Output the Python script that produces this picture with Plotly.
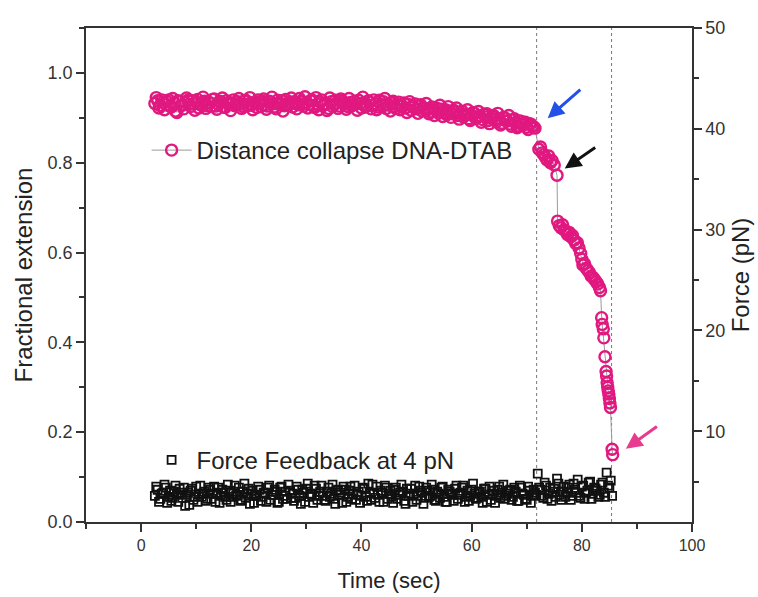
import plotly.graph_objects as go

# ---------------- data ----------------
TIME = [
    2.5, 3.0, 3.5, 4.0, 4.5, 5.0, 5.5, 6.0, 6.5, 7.0,
    7.5, 8.0, 8.5, 9.0, 9.5, 10.0, 10.5, 11.0, 11.5, 12.0,
    12.5, 13.0, 13.5, 14.0, 14.5, 15.0, 15.5, 16.0, 16.5, 17.0,
    17.5, 18.0, 18.5, 19.0, 19.5, 20.0, 20.5, 21.0, 21.5, 22.0,
    22.5, 23.0, 23.5, 24.0, 24.5, 25.0, 25.5, 26.0, 26.5, 27.0,
    27.5, 28.0, 28.5, 29.0, 29.5, 30.0, 30.5, 31.0, 31.5, 32.0,
    32.5, 33.0, 33.5, 34.0, 34.5, 35.0, 35.5, 36.0, 36.5, 37.0,
    37.5, 38.0, 38.5, 39.0, 39.5, 40.0, 40.5, 41.0, 41.5, 42.0,
    42.5, 43.0, 43.5, 44.0, 44.5, 45.0, 45.5, 46.0, 46.5, 47.0,
    47.5, 48.0, 48.5, 49.0, 49.5, 50.0, 50.5, 51.0, 51.5, 52.0,
    52.5, 53.0, 53.5, 54.0, 54.5, 55.0, 55.5, 56.0, 56.5, 57.0,
    57.5, 58.0, 58.5, 59.0, 59.5, 60.0, 60.5, 61.0, 61.5, 62.0,
    62.5, 63.0, 63.5, 64.0, 64.5, 65.0, 65.5, 66.0, 66.5, 67.0,
    67.5, 68.0, 68.5, 69.0, 69.5, 70.0, 70.5, 71.0, 71.5, 72.0,
    72.5, 73.0, 73.5, 74.0, 74.5, 75.0, 75.5, 76.0, 76.5, 77.0,
    77.5, 78.0, 78.5, 79.0, 79.5, 80.0, 80.5, 81.0, 81.5, 82.0,
    82.5, 83.0, 83.5, 84.0, 84.5, 85.0, 85.5,
]

# intermediate sampling instants (between the ones above)
TIME_MID = [
    2.75, 3.25, 3.75, 4.25, 4.75, 5.25, 5.75, 6.25, 6.75, 7.25,
    7.75, 8.25, 8.75, 9.25, 9.75, 10.25, 10.75, 11.25, 11.75, 12.25,
    12.75, 13.25, 13.75, 14.25, 14.75, 15.25, 15.75, 16.25, 16.75, 17.25,
    17.75, 18.25, 18.75, 19.25, 19.75, 20.25, 20.75, 21.25, 21.75, 22.25,
    22.75, 23.25, 23.75, 24.25, 24.75, 25.25, 25.75, 26.25, 26.75, 27.25,
    27.75, 28.25, 28.75, 29.25, 29.75, 30.25, 30.75, 31.25, 31.75, 32.25,
    32.75, 33.25, 33.75, 34.25, 34.75, 35.25, 35.75, 36.25, 36.75, 37.25,
    37.75, 38.25, 38.75, 39.25, 39.75, 40.25, 40.75, 41.25, 41.75, 42.25,
    42.75, 43.25, 43.75, 44.25, 44.75, 45.25, 45.75, 46.25, 46.75, 47.25,
    47.75, 48.25, 48.75, 49.25, 49.75, 50.25, 50.75, 51.25, 51.75, 52.25,
    52.75, 53.25, 53.75, 54.25, 54.75, 55.25, 55.75, 56.25, 56.75, 57.25,
    57.75, 58.25, 58.75, 59.25, 59.75, 60.25, 60.75, 61.25, 61.75, 62.25,
    62.75, 63.25, 63.75, 64.25, 64.75, 65.25, 65.75, 66.25, 66.75, 67.25,
    67.75, 68.25, 68.75, 69.25, 69.75, 70.25, 70.75, 71.25, 71.75, 72.25,
    72.75, 73.25, 73.75, 74.25, 74.75, 75.25, 75.75, 76.25, 76.75, 77.25,
    77.75, 78.25, 78.75, 79.25, 79.75, 80.25, 80.75, 81.25, 81.75, 82.25,
    82.75, 83.25, 83.75, 84.25, 84.75, 85.25,
]

# fractional extension before the collapse (t = 2.5 ... 71.5 s)
PLATEAU_EXT = [
    0.932, 0.938, 0.927, 0.935, 0.929, 0.940, 0.924, 0.933, 0.912, 0.936,
    0.928, 0.934, 0.939, 0.925, 0.931, 0.936, 0.922, 0.930, 0.937, 0.927,
    0.933, 0.941, 0.926, 0.930, 0.935, 0.924, 0.938, 0.929, 0.933, 0.927,
    0.936, 0.930, 0.925, 0.939, 0.931, 0.928, 0.934, 0.923, 0.932, 0.937,
    0.929, 0.926, 0.935, 0.931, 0.920, 0.933, 0.938, 0.927, 0.930, 0.935,
    0.924, 0.932, 0.929, 0.937, 0.926, 0.934, 0.930, 0.940, 0.923, 0.931,
    0.935, 0.927, 0.932, 0.921, 0.936, 0.929, 0.933, 0.926, 0.938, 0.930,
    0.925, 0.934, 0.929, 0.931, 0.939, 0.922, 0.930, 0.927, 0.935, 0.928,
    0.932, 0.924, 0.930, 0.936, 0.921, 0.928, 0.933, 0.925, 0.929, 0.918,
    0.926, 0.922, 0.930, 0.917, 0.924, 0.920, 0.927, 0.915, 0.921, 0.918,
    0.913, 0.922, 0.916, 0.910, 0.919, 0.912, 0.907, 0.915, 0.909, 0.913,
    0.905, 0.911, 0.902, 0.908, 0.898, 0.906, 0.910, 0.900, 0.904, 0.896,
    0.902, 0.894, 0.899, 0.905, 0.891, 0.897, 0.888, 0.900, 0.893, 0.886,
    0.895, 0.889, 0.882, 0.892, 0.885, 0.879, 0.887, 0.881, 0.877,
]

# fractional extension at the intermediate instants (t = 2.75 ... 71.25 s)
PLATEAU_EXT_MID = [
    0.945, 0.922, 0.940, 0.918, 0.936, 0.926, 0.943, 0.915, 0.938, 0.928,
    0.920, 0.944, 0.930, 0.938, 0.917, 0.941, 0.929, 0.946, 0.921, 0.935,
    0.926, 0.942, 0.919, 0.937, 0.944, 0.923, 0.933, 0.916, 0.940, 0.931,
    0.943, 0.921, 0.938, 0.927, 0.945, 0.918, 0.936, 0.940, 0.925, 0.942,
    0.919, 0.937, 0.946, 0.924, 0.939, 0.930, 0.915, 0.941, 0.928, 0.944,
    0.936, 0.920, 0.943, 0.931, 0.947, 0.922, 0.938, 0.926, 0.945, 0.918,
    0.940, 0.929, 0.916, 0.944, 0.925, 0.939, 0.921, 0.942, 0.934, 0.919,
    0.943, 0.927, 0.937, 0.917, 0.932, 0.946, 0.924, 0.938, 0.920, 0.940,
    0.918, 0.939, 0.926, 0.943, 0.930, 0.915, 0.937, 0.921, 0.935, 0.926,
    0.933, 0.912, 0.936, 0.924, 0.931, 0.910, 0.929, 0.920, 0.932, 0.909,
    0.924, 0.905, 0.921, 0.928, 0.903, 0.918, 0.925, 0.901, 0.917, 0.922,
    0.897, 0.915, 0.906, 0.918, 0.894, 0.912, 0.899, 0.914, 0.890, 0.908,
    0.909, 0.887, 0.903, 0.896, 0.910, 0.884, 0.901, 0.893, 0.905, 0.881,
    0.898, 0.878, 0.893, 0.884, 0.890, 0.874, 0.886, 0.880,
]

# collapse phase
COLLAPSE_TIME = [
    72.2, 72.5, 72.8, 73.1, 73.4, 73.7, 74.0, 74.3, 74.6, 75.0, 75.5,
    75.6, 75.9, 76.2, 76.5, 76.8, 77.1, 77.4, 77.7, 78.0, 78.3, 78.6,
    78.9, 79.2, 79.5, 79.8, 80.0, 80.2, 80.5, 80.8, 81.1, 81.4, 81.7,
    82.0, 82.3, 82.6, 82.9, 83.2, 83.4,
    83.6, 83.7, 83.9, 84.0, 84.2, 84.4, 84.5, 84.6, 84.7, 84.8, 84.9,
    85.0, 85.1, 85.2, 85.5, 85.6,
]
COLLAPSE_EXT = [
    0.830, 0.835, 0.822, 0.818, 0.812, 0.806, 0.815, 0.800, 0.805, 0.795, 0.772,
    0.670, 0.660, 0.655, 0.662, 0.650, 0.648, 0.640, 0.645, 0.635, 0.638, 0.628,
    0.620, 0.622, 0.610, 0.598, 0.585, 0.572, 0.575, 0.565, 0.560, 0.555, 0.548,
    0.545, 0.540, 0.535, 0.530, 0.522, 0.515,
    0.455, 0.440, 0.430, 0.410, 0.368, 0.335, 0.325, 0.310, 0.300, 0.292, 0.285,
    0.275, 0.265, 0.255, 0.162, 0.150,
]

# force feedback (pN), t = 2.5 ... 85.5 s
FORCE = [
    3.6, 4.2, 3.3, 3.9, 4.4, 3.5, 3.1, 4.0, 3.7, 4.3,
    3.4, 2.6, 3.9, 4.1, 3.2, 4.5, 3.7, 3.5, 4.0, 3.3,
    4.2, 3.8, 3.0, 4.4, 3.6, 3.9, 3.2, 4.1, 3.5, 4.6,
    3.7, 3.1, 4.0, 3.4, 4.3, 3.8, 2.9, 3.6, 4.2, 3.5,
    3.9, 4.4, 3.2, 3.7, 4.0, 3.0, 4.5, 3.6, 3.3, 4.1,
    3.8, 3.4, 4.2, 2.8, 3.9, 4.3, 3.5, 3.7, 4.6, 3.2,
    4.0, 3.6, 3.1, 4.4, 3.8, 3.3, 4.1, 3.7, 2.9, 4.2,
    3.5, 4.5, 3.8, 3.2, 4.0, 3.6, 4.3, 3.1, 3.9, 4.7,
    3.4, 3.7, 4.1, 3.0, 4.4, 3.8, 3.5, 4.2, 3.3, 3.9,
    4.0, 2.8, 3.6, 4.3, 3.7, 3.2, 4.5, 3.9, 3.4, 4.1,
    3.6, 4.2, 3.1, 3.8, 4.4, 3.5, 3.0, 4.0, 3.7, 4.3,
    3.3, 3.9, 4.6, 3.5, 3.1, 4.2, 3.8, 3.4, 4.0, 2.9,
    4.3, 3.7, 3.2, 4.1, 3.6, 4.5, 3.9, 3.3, 3.8, 4.2,
    3.5, 4.0, 3.1, 4.4, 3.7, 3.2, 4.1, 3.6, 3.9, 5.8,
    4.2, 3.4, 4.6, 3.8, 3.1, 4.3, 5.3, 3.7, 4.0, 3.5,
    4.4, 3.2, 4.8, 3.9, 3.6, 4.5, 3.3, 4.1, 5.0, 3.8,
    4.3, 3.5, 4.7, 3.9, 5.9, 4.4, 3.6,
]

# force feedback (pN) at the intermediate instants (t = 2.75 ... 85.25 s)
FORCE_MID = [
    4.5, 3.0, 3.8, 4.7, 2.9, 4.1, 3.4, 4.6, 3.0, 3.9,
    4.4, 3.7, 2.7, 4.3, 3.5, 3.0, 4.6, 3.8, 3.1, 4.4,
    3.3, 4.5, 3.9, 2.9, 4.2, 3.5, 4.7, 3.0, 4.0, 3.6,
    4.4, 3.2, 4.8, 3.8, 2.8, 4.1, 3.6, 4.5, 3.1, 3.9,
    3.0, 4.6, 3.7, 4.2, 2.9, 4.4, 3.3, 4.0, 4.7, 3.4,
    3.1, 4.5, 3.6, 4.2, 3.0, 4.8, 3.8, 2.9, 4.3, 3.6,
    4.6, 3.2, 4.0, 3.5, 4.7, 2.8, 4.2, 3.9, 4.5, 3.0,
    4.1, 3.3, 4.6, 3.7, 2.9, 4.4, 3.5, 4.8, 3.2, 3.8,
    4.5, 3.0, 3.9, 4.6, 3.3, 4.1, 2.9, 4.4, 3.7, 4.7,
    3.1, 4.3, 3.8, 3.0, 4.6, 3.6, 4.1, 2.8, 4.4, 3.5,
    4.7, 3.2, 4.0, 3.4, 4.5, 3.0, 4.2, 3.8, 3.1, 4.6,
    3.7, 4.4, 3.0, 4.1, 3.6, 4.8, 3.3, 4.0, 3.5, 4.3,
    3.0, 4.5, 3.8, 2.9, 4.2, 3.4, 4.7, 3.6, 4.1, 3.2,
    4.4, 3.1, 4.6, 3.8, 3.3, 4.5, 2.9, 4.2, 3.7, 4.4,
    3.6, 4.9, 3.3, 4.4, 4.0, 3.5, 4.8, 3.2, 4.5, 3.9,
    4.7, 3.6, 4.2, 5.2, 3.4, 4.6, 3.9, 4.9, 3.3, 4.4,
    4.1, 3.7, 4.9, 3.5, 4.6, 5.1,
]

EVENT_TIMES = [71.8, 85.4]  # dotted vertical markers

# arrows: tip (x, y) and tail (ax, ay) in data units, colour
ARROWS = [
    dict(x=73.8, y=0.899, ax=80.0, ay=0.966, color="#2350E6"),
    dict(x=76.9, y=0.787, ax=82.7, ay=0.836, color="#111111"),
    dict(x=88.0, y=0.163, ax=93.9, ay=0.215, color="#E83A8E"),
]

X_TICKS = [0, 20, 40, 60, 80, 100]
Y_TICKS = [0.0, 0.2, 0.4, 0.6, 0.8, 1.0]
Y2_TICKS = [10, 20, 30, 40, 50]

PINK = "#E0187F"
AXIS = "#333333"
FONT = "Liberation Sans"

# ---------------- figure ----------------
fig = go.Figure()

square_marker = dict(symbol="square-open", size=8, color="#111111", line=dict(width=1.8))
circle_marker = dict(symbol="circle-open", size=11, color=PINK, line=dict(width=2.4))

fig.add_trace(go.Scatter(
    x=TIME_MID, y=FORCE_MID, yaxis="y2", mode="markers",
    marker=square_marker, showlegend=False, hoverinfo="skip",
))
fig.add_trace(go.Scatter(
    x=TIME, y=FORCE, yaxis="y2", mode="markers",
    name="Force Feedback at 4 pN",
    marker=square_marker, legend="legend2",
))

fig.add_trace(go.Scatter(
    x=TIME_MID[:len(PLATEAU_EXT_MID)], y=PLATEAU_EXT_MID, mode="markers",
    marker=circle_marker, showlegend=False, hoverinfo="skip",
))
fig.add_trace(go.Scatter(
    x=TIME[:len(PLATEAU_EXT)] + COLLAPSE_TIME,
    y=PLATEAU_EXT + COLLAPSE_EXT,
    mode="lines+markers",
    name="Distance collapse DNA-DTAB",
    line=dict(color="#9a9a9a", width=1),
    marker=circle_marker,
    legend="legend",
))

for t in EVENT_TIMES:
    fig.add_shape(type="line", xref="x", yref="paper", x0=t, x1=t, y0=0, y1=1,
                  line=dict(color="#777777", width=1, dash="dot"), layer="below")

for a in ARROWS:
    fig.add_annotation(x=a["x"], y=a["y"], ax=a["ax"], ay=a["ay"],
                       xref="x", yref="y", axref="x", ayref="y",
                       text="", showarrow=True, arrowhead=2, arrowsize=1.1,
                       arrowwidth=3, arrowcolor=a["color"])

axis_common = dict(showline=True, linecolor=AXIS, linewidth=1.5, ticks="outside",
                   ticklen=8, tickwidth=1.5, tickcolor=AXIS, showgrid=False,
                   zeroline=False, automargin=False)

fig.update_layout(
    width=758, height=597,
    margin=dict(l=86, r=66, t=28, b=75),
    paper_bgcolor="white", plot_bgcolor="white",
    font=dict(family=FONT, color="#222222"),
    showlegend=True,
    xaxis=dict(
        **axis_common, range=[-10, 100], tickvals=X_TICKS, mirror=True,
        tickfont=dict(size=16, color="#333333"),
        title=dict(text="Time (sec)", font=dict(size=22), standoff=20),
        minor=dict(dtick=10, tick0=0, ticks="outside", ticklen=5, tickwidth=1.5, tickcolor=AXIS),
    ),
    yaxis=dict(
        **axis_common, range=[0, 1.1], tickvals=Y_TICKS, ticktext=[f"{v:.1f}" for v in Y_TICKS],
        tickfont=dict(size=18, color="#333333"),
        title=dict(text="Fractional extension", font=dict(size=24), standoff=8),
        minor=dict(dtick=0.1, tick0=0, ticks="outside", ticklen=5, tickwidth=1.5, tickcolor=AXIS),
    ),
    yaxis2=dict(
        **axis_common, overlaying="y", side="right", range=[1, 50], tickvals=Y2_TICKS,
        tickfont=dict(size=18, color="#333333"),
        title=dict(text="Force (pN)", font=dict(size=24), standoff=8),
        minor=dict(dtick=5, tick0=0, ticks="outside", ticklen=5, tickwidth=1.5, tickcolor=AXIS),
    ),
    legend=dict(x=0.10, y=0.752, xanchor="left", yanchor="middle",
                bgcolor="rgba(0,0,0,0)", font=dict(size=24, color="#222222"),
                itemwidth=40),
    legend2=dict(x=0.10, y=0.125, xanchor="left", yanchor="middle",
                 bgcolor="rgba(0,0,0,0)", font=dict(size=24, color="#222222"),
                 itemwidth=40),
)

fig.write_html("out.html")
